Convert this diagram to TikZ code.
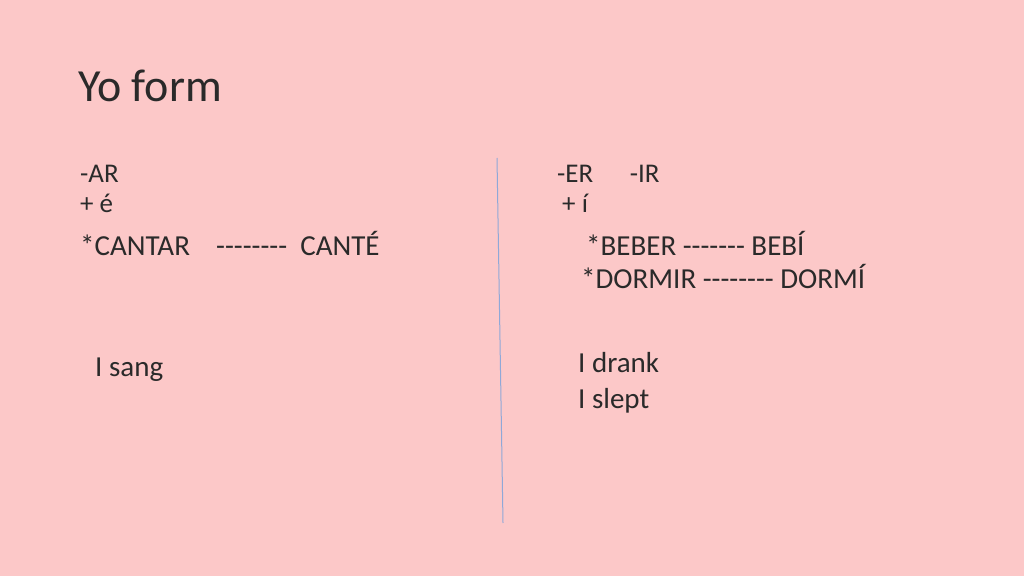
\documentclass[tikz,border=0pt]{standalone}
\usepackage{fontspec}
\setmainfont{Carlito}
\definecolor{bg}{HTML}{FCC8C8}
\definecolor{tx}{HTML}{2A2A2A}
\definecolor{ln}{HTML}{8FA8D8}
\begin{document}
\begin{tikzpicture}[x=1pt,y=1pt,
  t/.style={anchor=base west,inner sep=0pt,text=tx,font=\fontsize{27}{32}\selectfont},
  tb/.style={t,font=\fontsize{29}{34}\selectfont}]
\fill[bg] (0,0) rectangle (1024,576);
\useasboundingbox (0,0) rectangle (1024,576);
\node[t,font=\fontsize{46}{54}\selectfont] (title) at (78,576-102) {Yo form};
\node[t] (ar) at (80,576-183) {-AR};
\node[t] (ae) at (80,576-213) {+ é};
\node[tb] (cantar) at (80,576-256) {*CANTAR\ \ \ \ -{}-{}-{}-{}-{}-{}-{}-\ \ CANTÉ};
\node[tb] (sang) at (95,576-376) {I sang};
\node[t] (er) at (557,576-183) {-ER\ \ \ \ \ \ -IR};
\node[t] (ie) at (562,576-213) {+ í};
\node[tb] (beber) at (586,576-256) {*BEBER -{}-{}-{}-{}-{}-{}- BEBÍ};
\node[tb] (dormir) at (581,576-289) {*DORMIR -{}-{}-{}-{}-{}-{}-{}- DORMÍ};
\node[tb] (drank) at (578,576-372) {I drank};
\node[tb] (slept) at (578,576-408) {I slept};
\coordinate (l1) at (497,576-158);
\coordinate (l2) at (503,576-523);
\draw[ln,line width=1pt] (l1) -- (l2);
\end{tikzpicture}
\end{document}
